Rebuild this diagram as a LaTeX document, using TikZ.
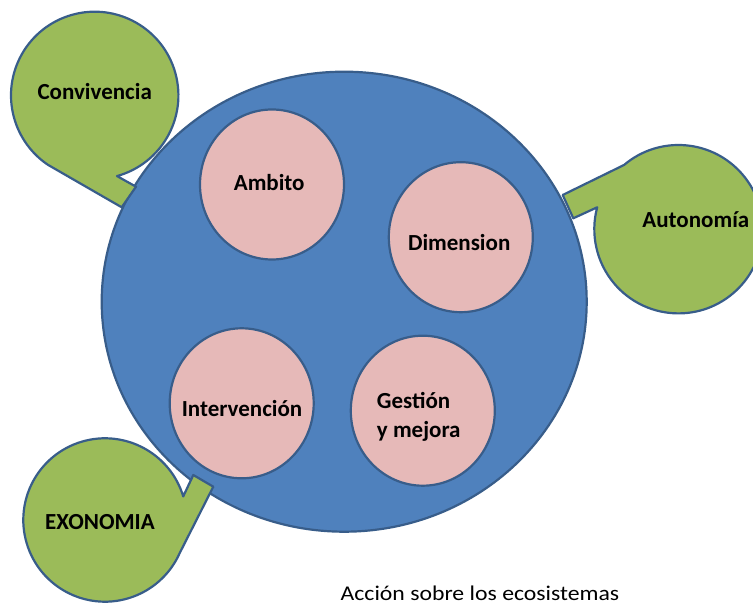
\documentclass[tikz,border=0pt]{standalone}
\usepackage{fontspec}
\setmainfont{Carlito}
\usetikzlibrary{calc,shapes.geometric}
\definecolor{ringblue}{HTML}{4F81BD}
\definecolor{edgeblue}{HTML}{385D8A}
\definecolor{leafgreen}{HTML}{9BBB59}
\definecolor{rosefill}{HTML}{E6B9B8}
\begin{document}
\begin{tikzpicture}[x=1pt,y=1pt,
  outline/.style={draw=edgeblue, line width=2.2pt, line join=round},
  disc/.style={ellipse, outline, fill=rosefill, minimum width=144pt,
    minimum height=150pt, inner sep=0pt},
  bubble/.style={outline, fill=leafgreen},
  tagtext/.style={font=\fontsize{23}{29}\selectfont\bfseries, inner sep=0pt, anchor=base},
  captext/.style={font=\fontsize{21}{25}\selectfont, inner sep=0pt, anchor=base}]
\path[use as bounding box] (0,0) rectangle (753,605);

% large ecosystem disc
\node[ellipse, outline, fill=ringblue, minimum width=485pt, minimum height=460pt,
  inner sep=0pt] (eco) at (344.2,303.3) {};

% four inner discs
\node[disc] (ambito) at (272,420.5) {};
\node[disc] (dimension) at (460.8,367.8) {};
\node[disc] (intervencion) at (241.7,201.7) {};
\node[disc] (gestion) at (422.8,194.3) {};

% speech bubbles around the disc
\coordinate (cconv) at (94.7,509.6);
\coordinate (cauto) at (678.5,375.8);
\coordinate (cexo) at (105,85);
\coordinate (tconvA) at (121.7,397.7);
\coordinate (tconvB) at (136,418.3);
\coordinate (tautoA) at (562.7,410);
\coordinate (tautoB) at (573.3,386.7);
\coordinate (texoA) at (193.3,130);
\coordinate (texoB) at (213.3,118.3);

\draw[bubble] ($(cconv)+(-74.55:83.7)$) arc[start angle=-74.55, end angle=236.13, radius=83.7]
  -- (tconvA) -- (tconvB) -- cycle;
\draw[bubble] ($(cauto)+(130.25:84.2)$) arc[start angle=130.25, end angle=-195.08, radius=84.2]
  -- (tautoB) -- (tautoA) -- cycle;
\draw[bubble] ($(cexo)+(16.77:81.7)$) arc[start angle=16.77, end angle=336.06, radius=81.7]
  -- (texoB) -- (texoA) -- cycle;

% texts
\node[tagtext] (tAmbito) at (269.2,414.3) {Ambito};
\node[tagtext] (tDimension) at (459.2,354.3) {Dimension};
\node[tagtext] (tIntervencion) at (242,188.3) {Intervención};
\node[tagtext, anchor=west, align=left] (tGestion) at (376.7,188.2) {Gestión\\y mejora};
\node[tagtext] (tConvivencia) at (94.7,505.7) {Convivencia};
\node[tagtext] (tAutonomia) at (695.8,377.7) {Autonomía};
\node[tagtext] (tExonomia) at (100,75.7) {EXONOMIA};
\node[captext] (tCaption) at (480,4.3) {\scalebox{1.13}[1]{Acción sobre los ecosistemas}};
\end{tikzpicture}
\end{document}
